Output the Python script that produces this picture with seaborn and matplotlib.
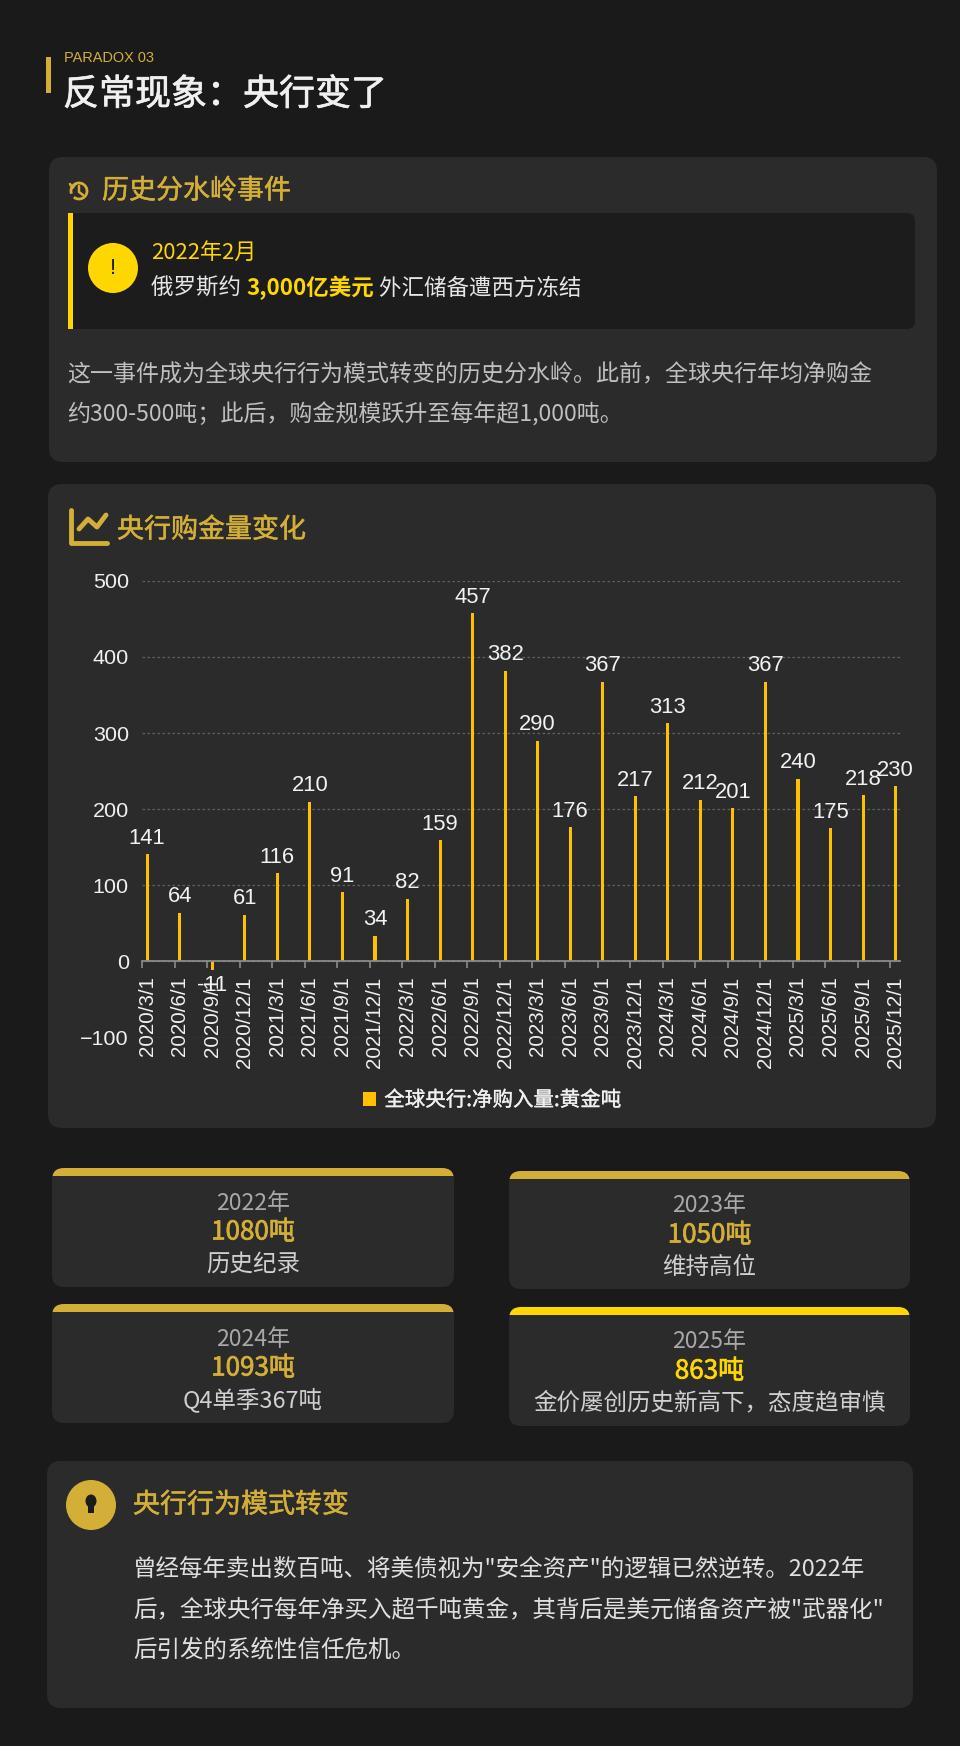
import matplotlib
matplotlib.use("Agg")
import matplotlib.pyplot as plt
import matplotlib.patheffects as pe
import seaborn as sns
from matplotlib.patches import FancyBboxPatch, Rectangle, Circle, Arc, Patch, Ellipse

sns.set_style("dark")
plt.rcParams['font.family'] = ['Noto Sans CJK SC', 'DejaVu Sans']
plt.rcParams['axes.unicode_minus'] = True

# data
dates = ['2020/3/1', '2020/6/1', '2020/9/1', '2020/12/1', '2021/3/1', '2021/6/1',
         '2021/9/1', '2021/12/1', '2022/3/1', '2022/6/1', '2022/9/1', '2022/12/1',
         '2023/3/1', '2023/6/1', '2023/9/1', '2023/12/1', '2024/3/1', '2024/6/1',
         '2024/9/1', '2024/12/1', '2025/3/1', '2025/6/1', '2025/9/1', '2025/12/1']
values = [141, 64, -11, 61, 116, 210, 91, 34, 82, 159, 457, 382,
          290, 176, 367, 217, 313, 212, 201, 367, 240, 175, 218, 230]
yticks = [-100, 0, 100, 200, 300, 400, 500]
legend_label = '全球央行:净购入量:黄金吨'

stat_years = ['2022年', '2023年', '2024年', '2025年']
stat_totals = ['1080吨', '1050吨', '1093吨', '863吨']
stat_notes = ['历史纪录', '维持高位', 'Q4单季367吨', '金价屡创历史新高下，态度趋审慎']

BG = '#1a1a1a'
CARD = '#2b2b2b'
GOLD = '#D4AF37'
YEL = '#FFD700'
BAR = '#FFC000'
W, H = 960, 1746

fig = plt.figure(figsize=(W / 100, H / 100), dpi=100, facecolor=BG)
bg = fig.add_axes([0, 0, 1, 1])
bg.set_xlim(0, W)
bg.set_ylim(H, 0)
bg.axis('off')
bg.set_facecolor(BG)


def px(v):
    return v * 0.72


def put(x, y, s, size, color, weight='normal', ha='left', family=None, thick=0):
    kw = {}
    if family:
        kw['family'] = family
    t = bg.text(x, y, s, fontsize=px(size), color=color, fontweight=weight,
                ha=ha, va='center', **kw)
    if thick:
        # fake a medium weight
        t.set_path_effects([pe.withStroke(linewidth=thick, foreground=color)])
    return t


def card(x0, y0, x1, y1, color=CARD, r=14):
    p = FancyBboxPatch((x0 + r, y0 + r), x1 - x0 - 2 * r, y1 - y0 - 2 * r,
                       boxstyle=f"round,pad={r}", fc=color, ec='none')
    bg.add_patch(p)
    return p


# title
bg.add_patch(Rectangle((46, 57), 5, 36, fc=GOLD, ec='none'))
put(64, 58, 'PARADOX 03', 14.5, GOLD, family=['Liberation Sans'])
put(63, 95, '反常现象：央行变了', 36, '#f0f0f0', thick=0.5)

# card 1 - event
card(49, 157, 937, 462)
put(102, 191, '历史分水岭事件', 27, GOLD, thick=0.35)
bg.add_patch(Arc((79, 191), 16, 16, theta1=-200, theta2=130, color=GOLD, lw=2))
bg.plot([79, 79, 83], [186, 192, 195], color=GOLD, lw=1.8)
bg.plot([70, 72.5, 75], [184, 188, 184.5], color=GOLD, lw=1.8)

card(68, 213, 915, 329, color='#1c1c1c', r=8)
bg.add_patch(Rectangle((68, 213), 5, 116, fc=YEL, ec='none'))
bg.add_patch(Circle((113, 268), 25, fc=YEL, ec='none'))
put(113, 268, '!', 22, '#1c1c1c', ha='center', family=['Liberation Sans'])
put(151, 253, '2022年2月', 22, YEL)

renderer = fig.canvas.get_renderer()
xpos = 151
for seg, col, wt in [('俄罗斯约 ', '#e6e6e6', 'normal'),
                     ('3,000亿美元', YEL, 'bold'),
                     (' 外汇储备遭西方冻结', '#e6e6e6', 'normal')]:
    t = put(xpos, 288, seg, 22.5, col, weight=wt)
    xpos += t.get_window_extent(renderer=renderer).width

put(67, 375, '这一事件成为全球央行行为模式转变的历史分水岭。此前，全球央行年均净购金', 23, '#c0c0c0')
put(67, 415, '约300-500吨；此后，购金规模跃升至每年超1,000吨。', 23, '#c0c0c0')

# card 2 - chart
card(48, 484, 936, 1128)
put(117, 530, '央行购金量变化', 27, GOLD, thick=0.35)
bg.plot([71, 71, 107], [510, 543, 543], color=GOLD, lw=3.5, solid_capstyle='round',
        solid_joinstyle='round')
bg.plot([79, 88, 97, 106], [529, 519, 527, 515], color=GOLD, lw=3.5,
        solid_capstyle='round', solid_joinstyle='round')

ax_l, ax_r, ax_t, ax_b = 142, 900, 580.7, 1037.6
ax = fig.add_axes([ax_l / W, 1 - ax_b / H, (ax_r - ax_l) / W, (ax_b - ax_t) / H])
ax.set_facecolor('none')
sns.barplot(x=dates, y=values, color=BAR, saturation=1, width=0.095, ax=ax,
            edgecolor='none', linewidth=0)
ax.bar_label(ax.containers[0], labels=[str(v) for v in values], padding=4,
             fontsize=px(22), color='#f2f2f2', family='Liberation Sans')
ax.set_xlim(-0.16, 23.135)
ax.set_ylim(-100, 500)
ax.set_xlabel('')
ax.set_ylabel('')
for s in ['top', 'right', 'left']:
    ax.spines[s].set_visible(False)
ax.spines['bottom'].set_position(('data', 0))
ax.spines['bottom'].set_color('#8a8a8a')
ax.spines['bottom'].set_linewidth(1.3)
ax.set_xticks(range(len(dates)))
ax.set_xticklabels(dates, rotation=90)
ax.set_xticks([i - 0.16 for i in range(len(dates))], minor=True)
ax.tick_params(axis='x', which='major', length=0, pad=px(15), labelsize=px(20.5),
               labelcolor='#f0f0f0')
ax.tick_params(axis='x', which='minor', length=px(7), width=1.2, color='#8a8a8a',
               direction='out', bottom=True)
ax.set_yticks(yticks)
ax.set_yticklabels([str(v).replace('-', '\u2212') for v in yticks])
ax.tick_params(axis='y', length=0, pad=px(13), labelsize=px(21.5), labelcolor='#f0f0f0')
for lbl in ax.get_xticklabels() + ax.get_yticklabels():
    lbl.set_fontfamily('Liberation Sans')
ax.yaxis.grid(True, linestyle=(0, (2, 2)), color='#5a646e', lw=0.9)
ax.xaxis.grid(False)
ax.set_axisbelow(True)
leg = ax.legend(handles=[Patch(fc=BAR, ec='none', label=legend_label)], loc='center',
                bbox_to_anchor=(492 / W, 1 - 1100 / H), bbox_transform=fig.transFigure,
                frameon=False, handlelength=0.65, handleheight=0.65, handletextpad=0.4,
                prop={'size': px(20.5)}, labelcolor='#f0f0f0')
for t in leg.get_texts():
    t.set_path_effects([pe.withStroke(linewidth=0.25, foreground='#f0f0f0')])

# stat cards
boxes = [(52, 1168, 454, 1287), (509, 1171, 910, 1289),
         (52, 1304, 454, 1423), (509, 1307, 910, 1426)]
strip_cols = [GOLD, GOLD, GOLD, YEL]
total_cols = [GOLD, GOLD, GOLD, YEL]
for i, (x0, y0, x1, y1) in enumerate(boxes):
    p = card(x0, y0, x1, y1, r=12)
    strip = Rectangle((x0 - 2, y0 - 2), x1 - x0 + 4, 10, fc=strip_cols[i], ec='none')
    bg.add_patch(strip)
    strip.set_clip_path(p)
    cx = (x0 + x1) / 2
    put(cx, y0 + 35, stat_years[i], 23, '#a8a8a8', ha='center')
    put(cx, y0 + 64, stat_totals[i], 26, total_cols[i], ha='center', thick=0.5)
    put(cx, y0 + 96, stat_notes[i], 23.5, '#d0d0d0', ha='center')

# card 3 - insight
card(47, 1461, 913, 1708)
bg.add_patch(Circle((91, 1505), 25, fc=GOLD, ec='none'))
bg.add_patch(Ellipse((91, 1501), 11, 13, fc='#1c1c1c', ec='none'))
bg.add_patch(Rectangle((88, 1506), 6, 7, fc='#1c1c1c', ec='none'))
put(133, 1505, '央行行为模式转变', 27, GOLD, thick=0.35)
para = ['曾经每年卖出数百吨、将美债视为"安全资产"的逻辑已然逆转。2022年',
        '后，全球央行每年净买入超千吨黄金，其背后是美元储备资产被"武器化"',
        '后引发的系统性信任危机。']
for k, line in enumerate(para):
    put(133, 1569 + 40.5 * k, line, 23.5, '#e0e0e0')

fig.savefig('out.png', dpi=100, facecolor=BG)
